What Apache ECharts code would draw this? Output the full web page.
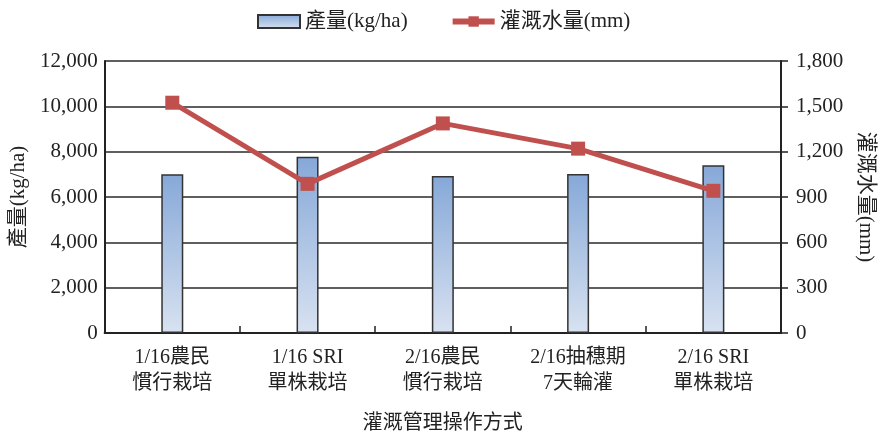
<!DOCTYPE html>
<html>
<head>
<meta charset="utf-8">
<script src="https://cdn.jsdelivr.net/npm/echarts@6/dist/echarts.min.js"></script>
<style>
  html, body { margin: 0; padding: 0; background: #fff; }
  #chart { width: 884px; height: 439px; }
</style>
</head>
<body>
<div id="chart"></div>
<script>
// Irrigation management methods
const categories = ['1/16農民\n慣行栽培', '1/16 SRI\n單株栽培', '2/16農民\n慣行栽培', '2/16抽穗期\n7天輪灌', '2/16 SRI\n單株栽培'];
// Grain yield (kg/ha)
const yieldValues = [7000, 7780, 6930, 7010, 7400];
// Irrigation water amount (mm)
const waterValues = [1524, 987, 1387, 1220, 941];

const yieldTicks = { min: 0, max: 12000, interval: 2000 };
const waterTicks = { min: 0, max: 1800, interval: 300 };

const FONT = '"Liberation Serif", "Noto Sans CJK TC", serif';
const chart = echarts.init(document.getElementById('chart'), null, { renderer: 'canvas' });

chart.setOption({
  animation: false,
  textStyle: { fontFamily: FONT, color: '#222' },
  legend: {
    top: 6,
    left: 252,
    itemGap: 42,
    itemWidth: 42,
    itemHeight: 13,
    textStyle: { fontFamily: FONT, fontSize: 21, color: '#222' },
    data: [
      { name: '產量(kg/ha)', icon: 'rect' },
      { name: '灌溉水量(mm)', lineStyle: { width: 6 }, itemStyle: { color: '#C0504D' } }
    ]
  },
  grid: { left: 104, right: 100, top: 61, bottom: 102 },
  xAxis: {
    type: 'category',
    data: categories,
    axisLine: { lineStyle: { color: '#222', width: 2 } },
    axisTick: { show: true, inside: true, length: 7, lineStyle: { color: '#222', width: 1.5 } },
    axisLabel: { fontFamily: FONT, fontSize: 20, color: '#222', lineHeight: 26, margin: 12 },
    name: '灌溉管理操作方式',
    nameLocation: 'middle',
    nameGap: 81,
    nameTextStyle: { fontFamily: FONT, fontSize: 20, color: '#222' }
  },
  yAxis: [
    {
      type: 'value',
      min: yieldTicks.min, max: yieldTicks.max, interval: yieldTicks.interval,
      position: 'left',
      axisLine: { show: true, lineStyle: { color: '#222', width: 2 } },
      axisTick: { show: false },
      axisLabel: {
        fontFamily: FONT, fontSize: 21, color: '#222', margin: 7,
        formatter: v => v.toLocaleString('en-US')
      },
      splitLine: { show: true, lineStyle: { color: '#2a2a2a', width: 1.5 } },
      name: '產量(kg/ha)',
      nameLocation: 'middle',
      nameRotate: 90,
      nameGap: 74,
      nameTextStyle: { fontFamily: FONT, fontSize: 21, color: '#222' }
    },
    {
      type: 'value',
      min: waterTicks.min, max: waterTicks.max, interval: waterTicks.interval,
      position: 'right',
      axisLine: { show: true, lineStyle: { color: '#222', width: 2 } },
      axisTick: { show: true, length: 7, lineStyle: { color: '#222', width: 1.5 } },
      axisLabel: {
        fontFamily: FONT, fontSize: 21, color: '#222', margin: 15,
        formatter: v => v.toLocaleString('en-US')
      },
      splitLine: { show: false },
      name: '灌溉水量(mm)',
      nameLocation: 'middle',
      nameRotate: -90,
      nameGap: 74,
      nameTextStyle: { fontFamily: FONT, fontSize: 21, color: '#222' }
    }
  ],
  series: [
    {
      name: '產量(kg/ha)',
      type: 'bar',
      yAxisIndex: 0,
      data: yieldValues,
      barWidth: 22,
      itemStyle: {
        color: new echarts.graphic.LinearGradient(0, 0, 0, 1, [
          { offset: 0, color: '#86A8D8' },
          { offset: 1, color: '#D8E2F1' }
        ]),
        borderColor: '#333',
        borderWidth: 1.5
      }
    },
    {
      name: '灌溉水量(mm)',
      type: 'line',
      yAxisIndex: 1,
      data: waterValues,
      symbol: 'rect',
      symbolSize: 14,
      lineStyle: { color: '#C0504D', width: 5 },
      itemStyle: { color: '#C0504D' },
      z: 5
    }
  ]
});
</script>
</body>
</html>
